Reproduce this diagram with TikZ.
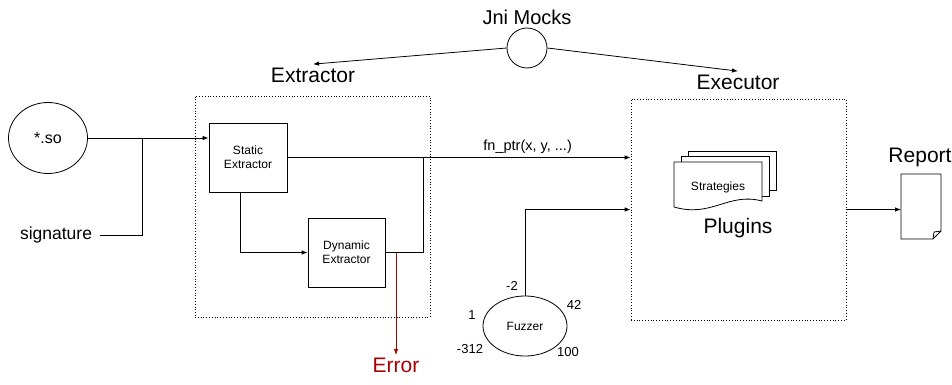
\documentclass[tikz,border=0pt]{standalone}
\usepackage{fontspec}
\setmainfont{Liberation Sans}
\usetikzlibrary{arrows.meta,shapes.geometric}

\tikzset{
  big/.style={font=\fontsize{21}{24}\selectfont},
  mid/.style={font=\fontsize{17.5}{20}\selectfont},
  small/.style={font=\fontsize{12}{14}\selectfont, align=center},
  num/.style={font=\fontsize{13}{15}\selectfont},
  block/.style={draw, line width=0.8pt, minimum width=78pt, minimum height=69pt, inner sep=0pt, small},
  zone/.style={draw, dotted, line width=0.8pt, inner sep=0pt},
  wire/.style={line width=0.8pt},
  >={Latex[length=6pt,width=4.5pt]}
}

\begin{document}
\begin{tikzpicture}[x=1pt,y=-1pt]
\useasboundingbox (0,0) rectangle (952,385);
% inputs
\node[draw, ellipse, wire, minimum width=79pt, minimum height=71pt, inner sep=0pt, font=\fontsize{16}{18}\selectfont] (so) at (48,138) {*.so};
\node[mid] (sig) at (56,235) {signature};
\coordinate (join) at (142,138);
% extractor
\node[big] (extrlab) at (313,75) {Extractor};
\node[zone, minimum width=235pt, minimum height=221pt] (extr) at (312.5,206.5) {};
\node[block] (static) at (248,157.5) {Static\\Extractor};
\node[block, minimum width=77pt] (dynamic) at (346.5,252.5) {Dynamic\\Extractor};
\coordinate (turn) at (423,157.5);
\coordinate (errstart) at (396,252.5);
\node[big, text=red!65!black, anchor=north] (error) at (396,355) {Error};
% jni mocks
\node[font=\fontsize{20}{23}\selectfont] (jnilab) at (527,17) {Jni Mocks};
\node[draw, circle, wire, minimum size=40pt, inner sep=0pt] (jni) at (527,48) {};
% executor
\node[big] (execlab) at (738,82) {Executor};
\node[zone, minimum width=215pt, minimum height=221pt] (exec) at (738.5,209.5) {};
\filldraw[wire, fill=white] (688,151) rectangle (776,190);
\filldraw[wire, fill=white] (681,156) rectangle (769,196);
\filldraw[wire, fill=white] (674,162) -- (762,162) -- (762,201)
  .. controls (728,192) and (712,218) .. (674,207) -- cycle;
\node[small] (strat) at (718,187) {Strategies};
\node[big] (plugins) at (738,228) {Plugins};
% fuzzer
\node[draw, ellipse, wire, minimum width=84pt, minimum height=60pt, inner sep=0pt, small] (fuzzer) at (525,326) {Fuzzer};
\node[num] (n1) at (512,286) {-2};
\node[num] (n2) at (574,305) {42};
\node[num] (n3) at (472,315) {1};
\node[num] (n4) at (470,349) {-312};
\node[num] (n5) at (568,352) {100};
% report
\node[big] (replab) at (920,157) {Report};
\filldraw[wire, fill=white] (901,174) -- (941,174) -- (941,231) -- (933,239) -- (901,239) -- cycle;
\draw[wire] (933,239) -- (934,232) -- (941,231);
\coordinate (report) at (901,209.5);

% connectors
\draw[wire, ->] (so.east) -- (so.east -| static.west);
\draw[wire] (sig.east) ++(4,0) -| (join);
\draw[wire, ->] (static.east) -- node[pos=0.7, above, font=\fontsize{14.5}{16}\selectfont] (fnptr) {fn\_ptr(x, y, ...)} (static.east -| exec.west);
\draw[wire] (turn) |- (dynamic.east);
\draw[wire, ->] ([xshift=-8pt]static.south) |- (dynamic.west);
\draw[wire, ->, red!65!black] (errstart) -- (error.north);
\draw[wire, ->] (jni.west) -- (extrlab.north);
\draw[wire, ->] (jni.east) -- (execlab.north);
\draw[wire, ->] (fuzzer.north) |- (exec.west);
\draw[wire, ->] (exec.east) -- (report);
\end{tikzpicture}
\end{document}
